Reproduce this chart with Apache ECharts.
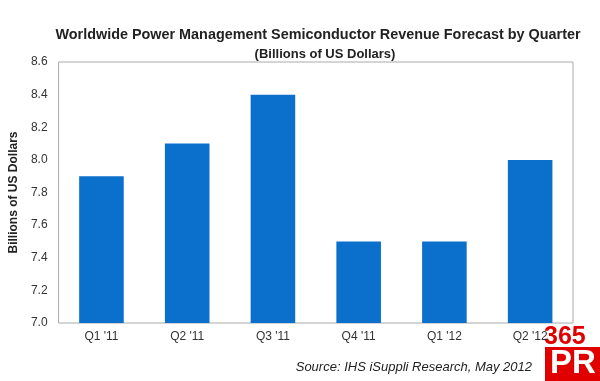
<!DOCTYPE html>
<html><head><meta charset="utf-8">
<script src="https://cdn.jsdelivr.net/npm/echarts@6/dist/echarts.min.js"></script>
<style>html,body{margin:0;padding:0;background:#fff}#c{width:600px;height:381px}</style>
</head><body><div id="c"></div>
<script>
const categories = ["Q1 '11", "Q2 '11", "Q3 '11", "Q4 '11", "Q1 '12", "Q2 '12"];
const revenue = [7.9, 8.1, 8.4, 7.5, 7.5, 8.0];
const yTicks = [7.0, 7.2, 7.4, 7.6, 7.8, 8.0, 8.2, 8.4, 8.6];

const chart = echarts.init(document.getElementById('c'));
chart.setOption({
  animation: false,
  backgroundColor: '#fff',
  title: [
    {text: 'Worldwide Power Management Semiconductor Revenue Forecast by Quarter', left: 313, top: 23, textAlign: 'center',
     textStyle: {fontFamily: 'Liberation Sans, Arial', fontSize: 14.4, fontWeight: 'bold', color: '#222'}},
    {text: '(Billions of US Dollars)', left: 320, top: 43, textAlign: 'center',
     textStyle: {fontFamily: 'Liberation Sans, Arial', fontSize: 13, fontWeight: 'bold', color: '#222'}}
  ],
  grid: {left: 56, right: 27, top: 62, bottom: 58, show: true, borderColor: '#aaa', borderWidth: 1},
  xAxis: {
    type: 'category', data: categories,
    axisLine: {show: false}, axisTick: {show: false},
    axisLabel: {color: '#333', fontFamily: 'Liberation Sans, Arial', fontSize: 12, margin: 8}
  },
  yAxis: {
    type: 'value', min: 7.0, max: 8.6, interval: 0.2,
    name: 'Billions of US Dollars', nameLocation: 'middle', nameGap: 33, nameRotate: 90,
    nameTextStyle: {fontFamily: 'Liberation Sans, Arial', fontSize: 12, fontWeight: 'bold', color: '#222'},
    axisLine: {show: false}, axisTick: {show: false}, splitLine: {show: false},
    axisLabel: {color: '#333', fontFamily: 'Liberation Sans, Arial', fontSize: 12, margin: 11,
      formatter: v => { const t = yTicks.find(x => Math.abs(x - v) < 1e-6); return (t !== undefined ? t : v).toFixed(1); }}
  },
  series: [{type: 'bar', data: revenue, barWidth: '52%', itemStyle: {color: '#0A70CC'}}],
  graphic: [
    {type: 'text', right: 68, top: 361, style: {text: 'Source: IHS iSuppli Research, May 2012', fill: '#222',
      font: 'italic 13px "Liberation Sans", Arial'}},
    {type: 'text', left: 544, top: 325, style: {text: '365', fill: '#e00000', font: 'bold 25px "Liberation Sans", Arial'}},
    {type: 'rect', shape: {x: 545, y: 347, width: 55, height: 34}, style: {fill: '#e00000'}},
    {type: 'text', left: 550, top: 347, style: {text: 'PR', fill: '#fff', font: 'bold 33px "Liberation Sans", Arial'}}
  ]
});
</script></body></html>
